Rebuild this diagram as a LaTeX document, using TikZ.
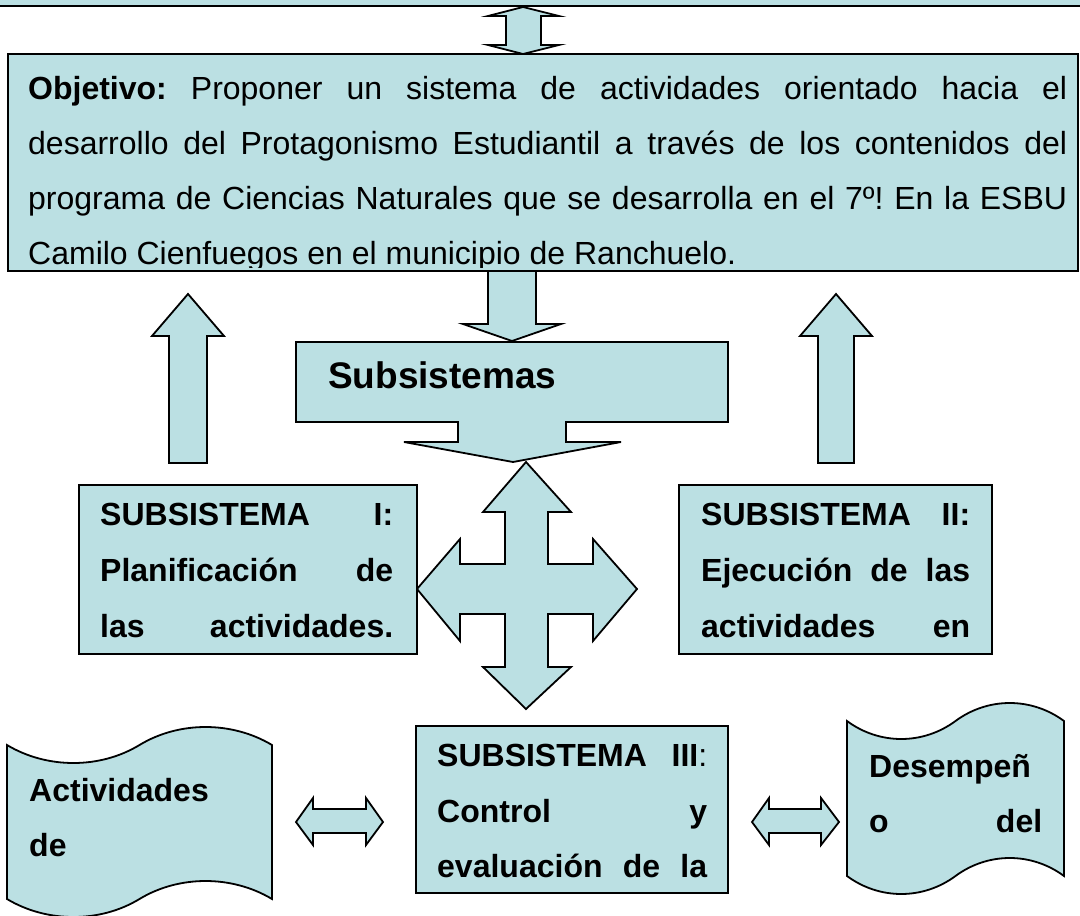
\documentclass[tikz,border=0pt]{standalone}
\usepackage{fontspec}
\setmainfont{Liberation Sans}
\definecolor{lb}{RGB}{187,224,227}
\frenchspacing
\begin{document}
\begin{tikzpicture}[x=1pt,y=-1pt,line join=miter,
  blk/.style={fill=lb,draw=black,line width=1.8pt},
  txt/.style={anchor=base west,inner sep=0pt,font=\fontsize{32}{38}\selectfont},
  btxt/.style={anchor=base west,inner sep=0pt,font=\fontsize{32}{38}\selectfont\bfseries},
  ttl/.style={anchor=base west,inner sep=0pt,font=\fontsize{37}{44}\selectfont\bfseries}]
\useasboundingbox (0,0) rectangle (1080,916);
\clip (0,0) rectangle (1080,916);
% top band
\draw[blk] (-10,-10) rectangle (1090,6);
% top double arrow
\draw[blk] (523,7) -- (559,16) -- (541,16) -- (541,45) -- (559,45) -- (523,54) -- (488,45) -- (506,45) -- (506,16) -- (488,16) -- cycle;
% objective box
\draw[blk] (8,54) rectangle (1078,271);
\node[txt] (o1) at (28,99) {\makebox[1039pt][s]{\textbf{Objetivo:} Proponer un sistema de actividades orientado hacia el}};
\node[txt] (o2) at (28,154) {\makebox[1039pt][s]{desarrollo del Protagonismo Estudiantil a través de los contenidos del}};
\node[txt] (o3) at (28,209) {\makebox[1039pt][s]{programa de Ciencias Naturales que se desarrolla en el 7º! En la ESBU}};
\begin{scope}
\clip (0,200) rectangle (1080,267);
\node[txt] (o4) at (28,264) {Camilo Cienfuegos en el municipio de Ranchuelo.};
\end{scope}
% down arrow to Subsistemas
\draw[blk] (488,271) -- (536,271) -- (536,324) -- (561,324) -- (512,341) -- (463,324) -- (488,324) -- cycle;
% Subsistemas callout
\draw[blk] (296,342) -- (728,342) -- (728,422) -- (566,422) -- (566,442) -- (621,442) -- (513,462) -- (404,442) -- (458,442) -- (458,422) -- (296,422) -- cycle;
\node[ttl] (sub) at (328,388) {Subsistemas};
% up arrows
\draw[blk] (188,294) -- (224,336) -- (207,336) -- (207,463) -- (169,463) -- (169,336) -- (152,336) -- cycle;
\draw[blk] (836,294) -- (872,336) -- (854,336) -- (854,463) -- (818,463) -- (818,336) -- (800,336) -- cycle;
% four-way arrow
\draw[blk] (526,462) -- (571,512) -- (548,512) -- (548,564) -- (593,564) -- (593,539) -- (637,589) -- (593,641) -- (593,614) -- (548,614) -- (548,667) -- (571,667) -- (526,709) -- (483,667) -- (505,667) -- (505,614) -- (460,614) -- (460,641) -- (417,589) -- (460,539) -- (460,564) -- (505,564) -- (505,512) -- (483,512) -- cycle;
% Subsistema I
\draw[blk] (79,485) rectangle (417,654);
\node[btxt] (s1a) at (100,525) {\makebox[293pt][s]{SUBSISTEMA I:}};
\node[btxt] (s1b) at (100,581) {\makebox[293pt][s]{Planificación de}};
\node[btxt] (s1c) at (100,637) {\makebox[293pt][s]{las actividades.}};
% Subsistema II
\draw[blk] (679,485) rectangle (992,654);
\node[btxt] (s2a) at (701,525) {\makebox[269pt][s]{SUBSISTEMA II:}};
\node[btxt] (s2b) at (701,581) {\makebox[269pt][s]{Ejecución de las}};
\node[btxt] (s2c) at (701,637) {\makebox[269pt][s]{actividades en}};
% Subsistema III
\draw[blk] (416,726) rectangle (728,893);
\node[btxt] (s3a) at (437,766) {\makebox[270pt][s]{SUBSISTEMA III\mdseries:}};
\node[btxt] (s3b) at (437,822) {\makebox[270pt][s]{Control y}};
\node[btxt] (s3c) at (437,877) {\makebox[270pt][s]{evaluación de la}};
% horizontal double arrows
\draw[blk] (296,822) -- (313,798) -- (313,809) -- (366,809) -- (366,798) -- (383,822) -- (366,845) -- (366,833) -- (313,833) -- (313,845) -- cycle;
\draw[blk] (752,822) -- (769,798) -- (769,809) -- (821,809) -- (821,798) -- (839,822) -- (821,845) -- (821,833) -- (769,833) -- (769,845) -- cycle;
% left wave
\draw[blk] (7,745) .. controls (47,769) and (100,769) .. (139.5,745) .. controls (179,721) and (232,721) .. (272,745) -- (272,899) .. controls (232,875) and (179,875) .. (139.5,899) .. controls (100,923) and (47,923) .. (7,899) -- cycle;
\node[btxt] (w1a) at (29,801) {Actividades};
\node[btxt] (w1b) at (29,856) {de};
% right wave
\draw[blk] (847,721) .. controls (879.5,745) and (923,745) .. (955.5,721) .. controls (988,697) and (1031.5,697) .. (1064,721) -- (1064,876) .. controls (1031.5,852) and (988,852) .. (955.5,876) .. controls (923,900) and (879.5,900) .. (847,876) -- cycle;
\node[btxt] (w2a) at (869,777) {Desempeñ};
\node[btxt] (w2b) at (869,832) {\makebox[173pt][s]{o del}};
\end{tikzpicture}
\end{document}
